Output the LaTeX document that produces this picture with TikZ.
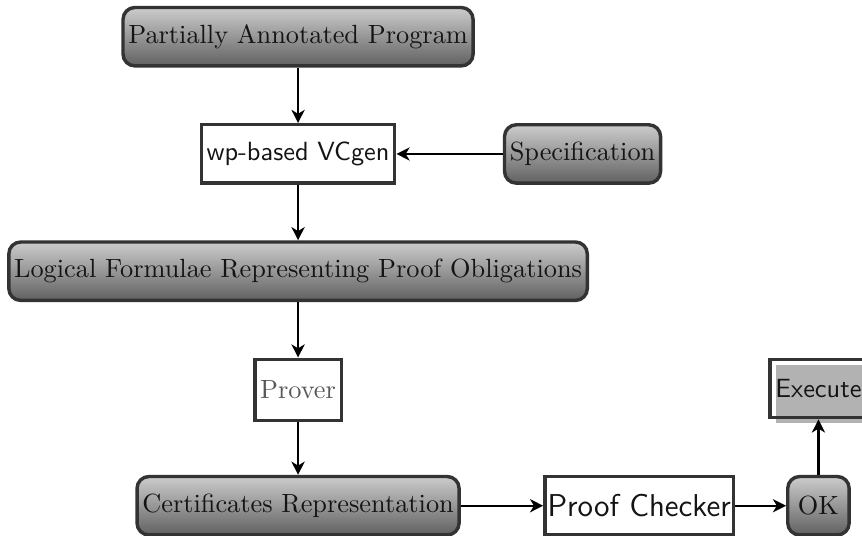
\documentclass[tikz,border=0pt]{standalone}
\usepackage{amsmath}
\usepackage{tikz}
\usetikzlibrary{positioning,shadows,arrows.meta}

\tikzset{
  base/.style={inner sep=2pt, minimum height=0.78cm, line width=1.3pt, draw=black!80, text=black!92},
  data/.style={base, rounded corners=4.5pt, top color=gray!40, bottom color=black!62},
  tool/.style={base, fill=white, font=\sffamily},
  flow/.style={-{Stealth[length=5pt,width=5pt,inset=1.5pt]}, line width=0.8pt},
}

\begin{document}
\begin{tikzpicture}[node distance=0.74cm]
  \useasboundingbox (0,0) rectangle (11.51,-7.15);
  %% left column
  \node[data] (prog) at (3.98,-0.49) {Partially Annotated Program};
  \node[tool, below=of prog] (vcgen) {wp-based VCgen};
  \node[data, right=1.42cm of vcgen] (spec) {Specification};
  \node[data, below=of vcgen] (form) {Logical Formulae Representing Proof Obligations};
  \node[base, fill=white, text=black!65, minimum height=0.82cm, below=of form] (prover) {Prover};
  \node[data, below=0.7cm of prover] (cert) {Certificates Representation};
  %% bottom row
  \node[tool, font=\sffamily\large, inner xsep=1pt, right=1.1cm of cert] (check) {Proof Checker};
  \node[data, minimum width=0.82cm, right=0.68cm of check] (ok) {OK};
  \node[base, font=\sffamily, drop shadow={fill=black!30, opacity=1}, above=of ok] (exec) {Execute};
  % connectors
  \draw[flow] (prog) -- (vcgen);
  \draw[flow] (spec) -- (vcgen);
  \draw[flow] (vcgen) -- (form);
  \draw[flow] (form) -- (prover);
  \draw[flow] (prover) -- (cert);
  \draw[flow] (cert) -- (check);
  \draw[flow] (check) -- (ok);
  \draw[flow] (ok) -- (exec);
\end{tikzpicture}
\end{document}
